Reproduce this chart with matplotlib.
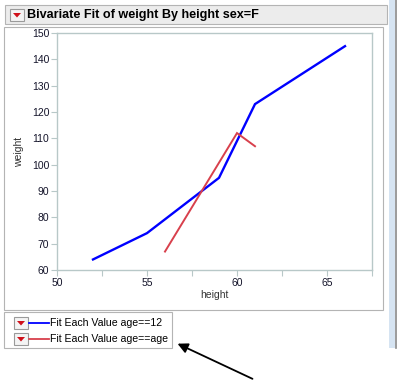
import matplotlib
matplotlib.use("Agg")
import matplotlib.pyplot as plt
from matplotlib.patches import Rectangle, Polygon, FancyArrowPatch
from matplotlib.lines import Line2D
from matplotlib.transforms import Affine2D

# ---- data ----
title = "Bivariate Fit of weight By height sex=F"
x_label = "height"
y_label = "weight"
blue_height = [52, 55, 59, 61, 66]
blue_weight = [64, 74, 95, 123, 145]
red_height = [56, 60, 61]
red_weight = [67, 112, 107]
legend_labels = ["Fit Each Value age==12", "Fit Each Value age==age"]
x_ticks = [50, 55, 60, 65]
y_ticks = [60, 70, 80, 90, 100, 110, 120, 130, 140, 150]

W, H = 400, 381
fig = plt.figure(figsize=(W / 100, H / 100), dpi=100)
fig.patch.set_facecolor("white")
plt.rcParams["font.family"] = ["Liberation Sans", "DejaVu Sans"]

# pixel transform (top-left origin)
px = Affine2D().scale(1 / W, -1 / H).translate(0, 1) + fig.transFigure

def rect(x0, y0, x1, y1, fc, ec, lw=1.0, z=1):
    fig.add_artist(Rectangle((x0, y0), x1 - x0, y1 - y0, transform=px,
                             facecolor=fc, edgecolor=ec, linewidth=lw, zorder=z))

def button(x0, y0):
    rect(x0, y0, x0 + 14, y0 + 12, "#f4f4f4", "#9a9a9a", 0.8, z=3)
    cx, cy = x0 + 7, y0 + 6
    fig.add_artist(Polygon([(cx - 4, cy - 2), (cx + 4, cy - 2), (cx, cy + 2.5)],
                           closed=True, transform=px, facecolor="#d0101a",
                           edgecolor="none", zorder=4))

# right side bar
rect(389, 0, 395, 348, "#d6e4f2", "none", 0, z=0)
fig.add_artist(Line2D([396, 396], [0, 348], transform=px, color="#8a8a8a", lw=1.2))

# title bar
rect(5, 5, 387, 24, "#ececec", "#b4b4b4", 0.8)
button(10, 9)
fig.text(27 / W, 1 - 15 / H, title, fontsize=9.1, fontweight="bold",
         va="center", ha="left", color="#000000")

# outer panel
rect(4, 27, 383, 310, "white", "#b4b4b4", 0.8)

# axes
ax = fig.add_axes([57 / W, 1 - 270 / H, (372 - 57) / W, (270 - 33) / H])
ax.set_zorder(5)
ax.plot(blue_height, blue_weight, color="#0000ff", lw=1.7, solid_joinstyle="miter")
ax.plot(red_height, red_weight, color="#d8404c", lw=1.4, solid_joinstyle="miter")
ax.set_xlim(50, 67.5)
ax.set_ylim(60, 150)
ax.set_xticks(x_ticks)
ax.set_xticks([52.5, 57.5, 62.5, 67.5], minor=True)
ax.set_yticks(y_ticks)
spine_c = "#b8c8c8"
for s in ax.spines.values():
    s.set_color(spine_c)
    s.set_linewidth(1.0)
ax.tick_params(axis="both", which="both", direction="out", color=spine_c,
               labelsize=7.5, labelcolor="#14142a", length=4, width=0.8, pad=1.5)
ax.tick_params(axis="x", which="minor", length=4)
ax.set_xlabel(x_label, fontsize=7.5, color="#333333", labelpad=2)
ax.set_ylabel(y_label, fontsize=7.5, color="#333333", labelpad=6)

# legend box
rect(4, 312, 172, 348, "white", "#b4b4b4", 0.8)
leg_colors = ["#0000ff", "#d8404c"]
for i, (lab, c) in enumerate(zip(legend_labels, leg_colors)):
    yc = 323 + i * 16
    button(14, yc - 6)
    fig.add_artist(Line2D([29, 49], [yc, yc], transform=px, color=c, lw=1.3, zorder=4))
    fig.text(50 / W, 1 - yc / H, lab, fontsize=7.6, va="center", ha="left", color="#000000")

# arrow
fig.add_artist(FancyArrowPatch((255, 380), (175, 342.5), transform=px,
                               arrowstyle="-|>,head_length=6,head_width=3",
                               color="black", lw=1.3, zorder=6))

fig.savefig("out.png", dpi=100, facecolor="white")
